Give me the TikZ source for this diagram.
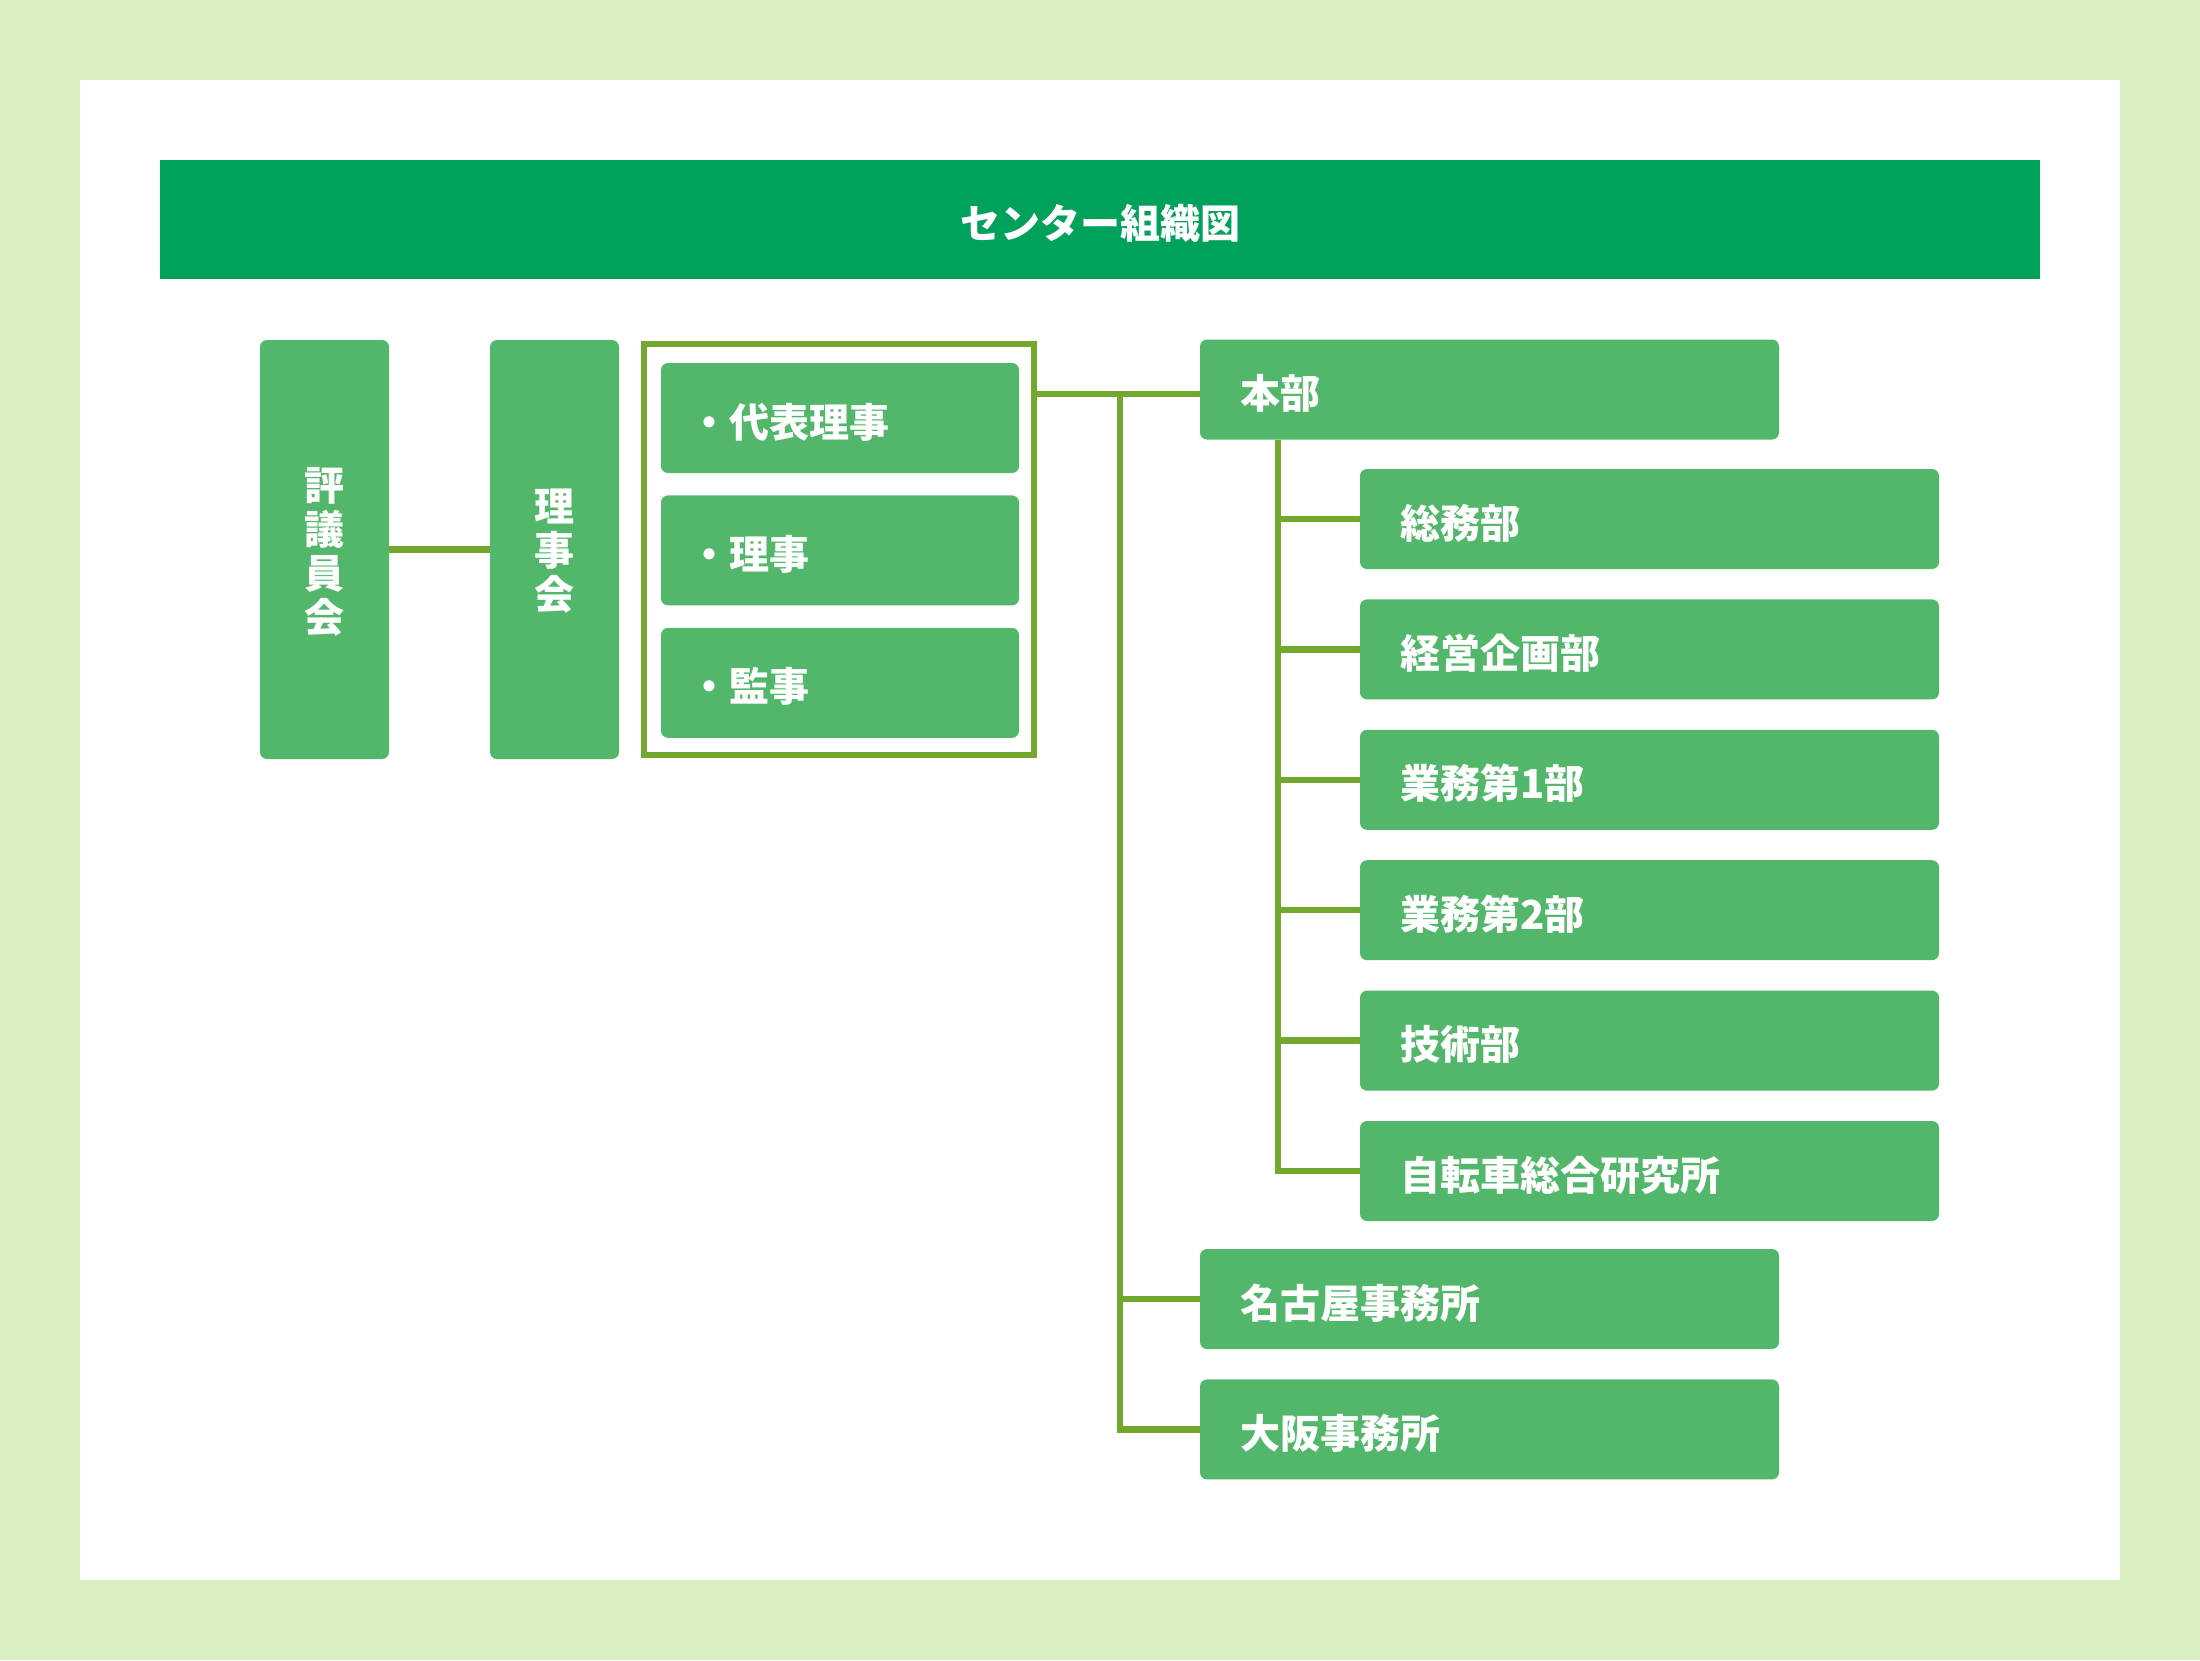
\documentclass[tikz,border=0pt]{standalone}
\usepackage{fontspec}
\setmainfont{Noto Sans CJK JP}
\usetikzlibrary{positioning}

\definecolor{pagebg}{HTML}{DAEFC1}
\definecolor{titlegreen}{HTML}{00A25B}
\definecolor{boxgreen}{HTML}{53B76B}
\definecolor{linegreen}{HTML}{73A72D}

\begin{document}
\begin{tikzpicture}[x=1pt,y=-1pt,node distance=30pt,
	font=\fontsize{40}{44}\selectfont\bfseries,
	every node/.style={inner sep=0pt},
	oneline/.style={text height=38pt,text depth=0pt},
	unit/.style={fill=boxgreen,rounded corners=7pt,text=white,minimum height=100pt},
	tall/.style={unit,minimum width=129pt,minimum height=419pt,align=center,text depth=-5pt},
	dept/.style={unit,oneline,minimum width=579pt,text width=499pt,align=left},
	post/.style={unit,oneline,minimum width=358pt,minimum height=110pt,text width=302pt,align=left},
	link/.style={draw=linegreen,line width=6.5pt}]
	
	% page
	\fill[pagebg] (0,0) rectangle (2200,1660);
	\fill[white] (80,80) rectangle (2120,1580);
	
	\node[oneline,fill=titlegreen,text=white,minimum width=1880pt,minimum height=119pt] (title) at (1100,219.5) {センター組織図};
	
	\node[tall] (council) at (324.5,549.5) {評\\議\\員\\会};
	\node[tall] (board)   at (554.5,549.5) {理\\事\\会};
	
	\node[draw=linegreen,line width=6.7pt,minimum width=390pt,minimum height=411pt] (officers) at (839,549.5) {};
	\node[post] (chair)   at (840,418)          {・代表理事};
	\node[post] (director) [below=22pt of chair]    {・理事};
	\node[post] (auditor)  [below=22pt of director] {・監事};
	
	\node[dept] (hq) at (1489.5,389.5) {本部};
	\node[dept] (gs)   at (1649.5,519) {総務部};
	\node[dept] (plan) [below=of gs]   {経営企画部};
	\node[dept] (biz1) [below=of plan] {業務第1部};
	\node[dept] (biz2) [below=of biz1] {業務第2部};
	\node[dept] (tech) [below=of biz2] {技術部};
	\node[dept] (lab)  [below=of tech] {自転車総合研究所};
	\node[dept] (nagoya) at (1489.5,1299) {名古屋事務所};
	\node[dept] (osaka)  [below=of nagoya] {大阪事務所};
	
	\coordinate (trunk) at (1120,394);
	\coordinate (spine) at (1278,0);
	
	\draw[link] (council) -- (board);
	\draw[link] (officers.east |- trunk) -- (trunk -| hq.west);
	\draw[link] (trunk) |- (osaka.west);
	\draw[link] (trunk |- nagoya.west) -- (nagoya.west);
	\draw[link] (spine |- hq.south) |- (lab.west);
	\foreach \d in {gs,plan,biz1,biz2,tech}
	\draw[link] (spine |- \d.west) -- (\d.west);
\end{tikzpicture}
\end{document}
